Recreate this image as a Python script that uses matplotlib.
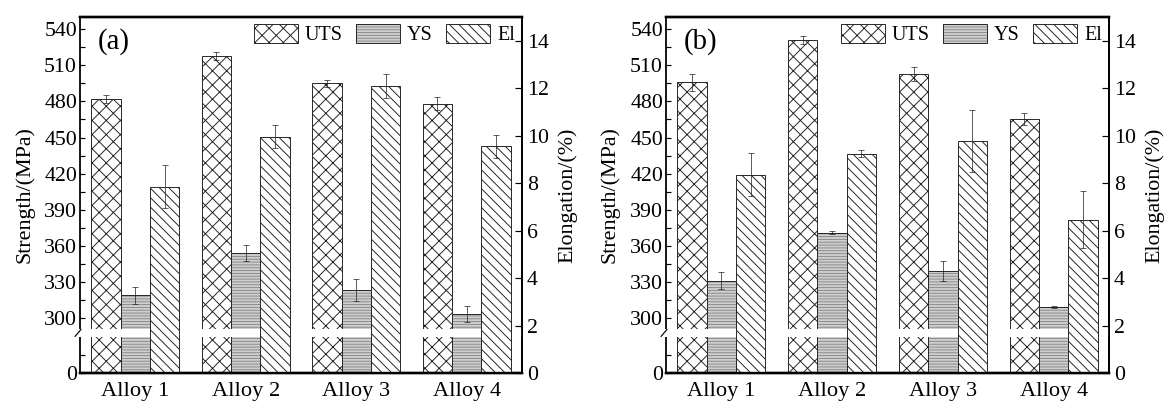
import numpy as np
import matplotlib.pyplot as plt

plt.rcParams['font.family'] = ['Liberation Serif', 'DejaVu Serif']
plt.rcParams['hatch.linewidth'] = 0.8

alloys = ['Alloy 1', 'Alloy 2', 'Alloy 3', 'Alloy 4']

# panel (a)
uts_a = [482, 518, 495, 478]
uts_a_err = [3.5, 3.5, 3, 5.5]
ys_a = [319, 354, 323.5, 303.5]
ys_a_err = [7, 7, 9, 6.5]
el_a = [7.85, 9.95, 12.1, 9.55]
el_a_err = [0.9, 0.48, 0.5, 0.49]

# panel (b)
uts_b = [496, 531, 503, 465.5]
uts_b_err = [7, 3, 6, 5]
ys_b = [331, 371, 339, 309]
ys_b_err = [7, 1, 8.5, 1]
el_b = [8.36, 9.23, 9.77, 6.46]
el_b_err = [0.9, 0.15, 1.3, 1.2]

# broken strength axis: 0-50 at the bottom, 291-550 above the gap
LOW_TOP = 50
HIGH_START = 291
vals = [-1000, 0, LOW_TOP, HIGH_START, 2000]
fracs = [-2.02, 0, 0.101, 0.124, 0.124 + (2000 - HIGH_START) * 0.003379]


def forward(v):
    return np.interp(v, vals, fracs)


def inverse(f):
    return np.interp(f, fracs, vals)


DPI = 85
fig = plt.figure(figsize=((1167 + 0.01) / DPI, (403 + 0.01) / DPI), dpi=DPI)

w = 0.265
x = np.arange(len(alloys))


def draw_panel(rect, tag, uts, uts_err, ys, ys_err, el, el_err):
    ax = fig.add_axes(rect)
    ax2 = ax.twinx()

    ax.set_yscale('function', functions=(forward, inverse))
    ax.set_ylim(0, 550.2)
    ax.set_xlim(-0.5, 3.5)

    b1 = ax.bar(x - w, uts, w, color='white', hatch='xx', edgecolor='#222222',
                lw=0.8, zorder=2)
    b2 = ax.bar(x, ys, w, color='#cfcfcf', hatch='-----', edgecolor='#8a8a8a',
                lw=0, zorder=2)
    b2e = ax.bar(x, ys, w, fill=False, edgecolor='#222222', lw=0.8, zorder=2.1)
    ax.errorbar(x - w, uts, yerr=uts_err, fmt='none', ecolor='#222222',
                elinewidth=0.6, capsize=2.5, capthick=0.6, zorder=4)
    ax.errorbar(x, ys, yerr=ys_err, fmt='none', ecolor='#222222',
                elinewidth=0.6, capsize=2.5, capthick=0.6, zorder=4)

    # white gap through the strength bars
    ax.axhspan(LOW_TOP, HIGH_START, color='white', lw=0, zorder=3)

    b3 = ax2.bar(x + w, el, w, color='white', hatch='\\\\\\', edgecolor='#222222',
                 lw=0.8, zorder=2)
    ax2.errorbar(x + w, el, yerr=el_err, fmt='none', ecolor='#222222',
                 elinewidth=0.6, capsize=2.5, capthick=0.6, zorder=4)
    ax2.set_ylim(0, 15)

    ax.set_yticks([0] + list(range(300, 541, 30)))
    ax.set_yticks([25] + list(range(315, 541, 30)), minor=True)
    ax2.set_yticks(range(0, 15, 2))
    ax.set_xticks(x)
    ax.set_xticklabels(alloys, fontsize=19)

    ax.tick_params(axis='y', which='both', direction='in', length=4, width=1,
                   labelsize=18.5, pad=2.5)
    ax.tick_params(axis='x', direction='in', length=4, width=1, pad=7.5)
    ax2.tick_params(axis='y', direction='in', length=6, width=1,
                    labelsize=18.5, pad=4)

    for a in (ax, ax2):
        a.spines['left'].set_visible(False)
        a.spines['top'].set_linewidth(2.0)
        a.spines['bottom'].set_linewidth(2.0)
        a.spines['right'].set_linewidth(1.5)

    # left spine drawn in two pieces around the break
    kw = dict(transform=ax.transAxes, color='black', lw=1.5, clip_on=False,
              zorder=6, solid_capstyle='butt')
    ax.plot([0, 0], [0, 0.101], **kw)
    ax.plot([0, 0], [0.124, 1], **kw)
    ax.plot([-0.011, 0.002], [0.103, 0.122], transform=ax.transAxes,
            color='black', lw=1.0, clip_on=False, zorder=6)

    ax.set_ylabel('Strength/(MPa)', fontsize=18.6)
    ax.yaxis.set_label_coords(-0.104, 0.5)
    ax2.set_ylabel('Elongation/(%)', fontsize=18.6)
    ax2.yaxis.set_label_coords(1.081, 0.5)

    ax.text(0.041, 0.931, tag, transform=ax.transAxes, fontsize=24.5,
            ha='left', va='center')

    ax2.legend([b1, (b2, b2e), b3], ['UTS', 'YS', 'El'], loc='upper right',
               ncol=3, frameon=False, fontsize=17, handlelength=2.2,
               handleheight=1.05, handletextpad=0.35, columnspacing=0.65,
               borderpad=0, borderaxespad=0.35)


draw_panel([80 / 1167, 30 / 403, 442 / 1167, 356 / 403], '(a)',
           uts_a, uts_a_err, ys_a, ys_a_err, el_a, el_a_err)
draw_panel([666 / 1167, 30 / 403, 443 / 1167, 356 / 403], '(b)',
           uts_b, uts_b_err, ys_b, ys_b_err, el_b, el_b_err)

fig.savefig('out.png', dpi=DPI)
